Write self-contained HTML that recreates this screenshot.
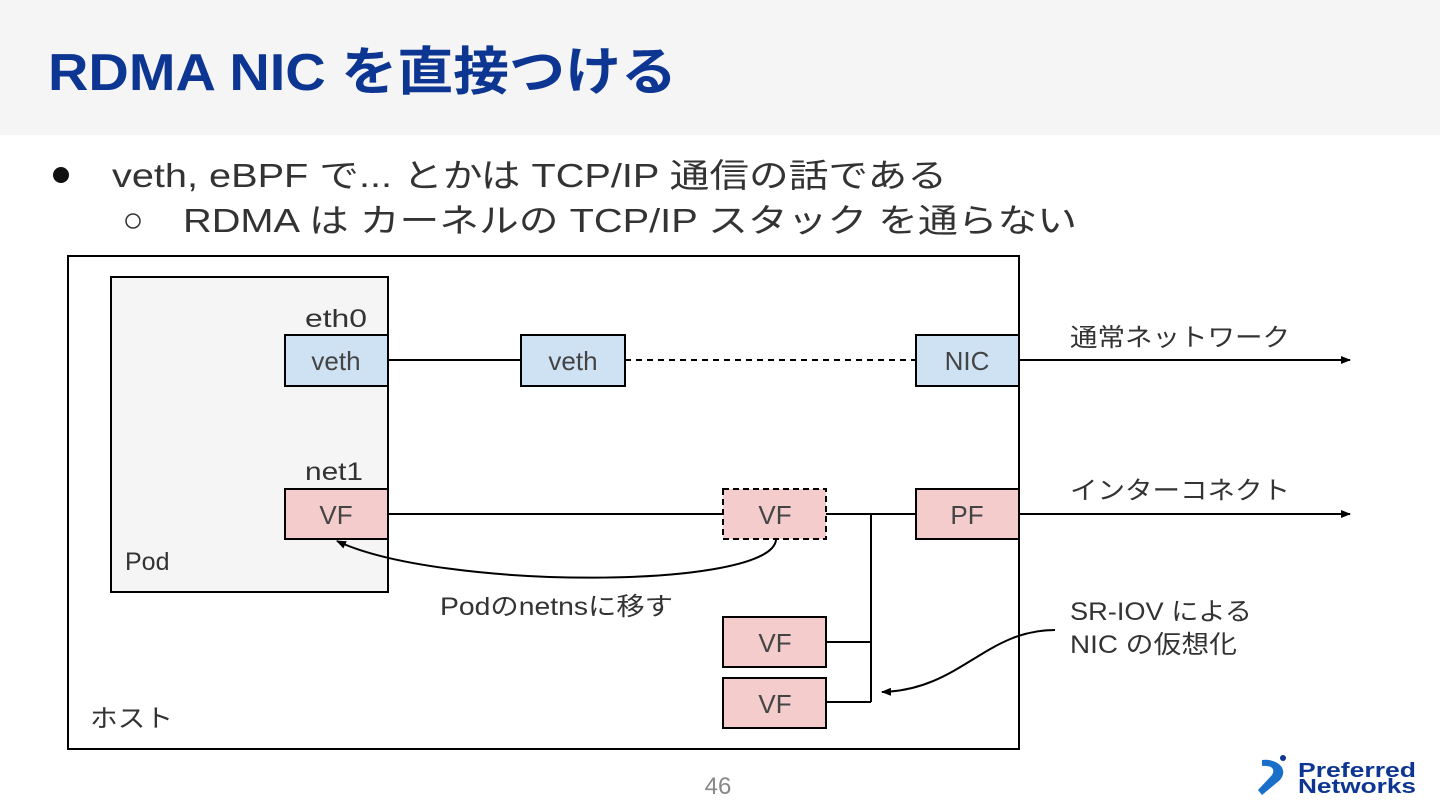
<!DOCTYPE html>
<html><head><meta charset="utf-8"><style>
html,body{margin:0;padding:0;background:#fff;}
svg{display:block;}
text{font-family:"Liberation Sans","Noto Sans CJK JP",sans-serif;}
</style></head><body>
<svg width="1440" height="810" viewBox="0 0 1440 810" xmlns="http://www.w3.org/2000/svg">
<defs><marker id="ah" markerWidth="10" markerHeight="8" refX="9" refY="4" orient="auto" markerUnits="userSpaceOnUse"><path d="M0,0 L10,4 L0,8 Z" fill="#000"/></marker></defs>
<rect x="0" y="0" width="1440" height="135" fill="#f5f5f5"/>
<text x="48" y="90" font-size="52" font-weight="bold" fill="#0d3592" textLength="629" lengthAdjust="spacingAndGlyphs">RDMA NIC を直接つける</text>
<circle cx="61" cy="175" r="8" fill="#111"/>
<text x="112" y="187" font-size="33" fill="#333" textLength="835" lengthAdjust="spacingAndGlyphs">veth, eBPF で... とかは TCP/IP 通信の話である</text>
<circle cx="133" cy="221" r="7" fill="none" stroke="#333" stroke-width="1.5"/>
<text x="183" y="232" font-size="33" fill="#333" textLength="894" lengthAdjust="spacingAndGlyphs">RDMA は カーネルの TCP/IP スタック を通らない</text>
<g stroke="#000" stroke-width="2" fill="none">
<rect x="68" y="256" width="951" height="493" fill="#fff"/>
<rect x="111" y="277" width="277" height="315" fill="#f5f5f5"/>
<line x1="388" y1="360" x2="521" y2="360"/>
<line x1="625" y1="360" x2="916" y2="360" stroke-dasharray="6,5"/>
<line x1="1019" y1="360" x2="1350" y2="360" marker-end="url(#ah)"/>
<line x1="388" y1="514" x2="723" y2="514"/>
<line x1="826" y1="514" x2="916" y2="514"/>
<line x1="1019" y1="514" x2="1350" y2="514" marker-end="url(#ah)"/>
<polyline points="871,514 871,702"/>
<line x1="826" y1="642" x2="871" y2="642"/>
<line x1="826" y1="702" x2="871" y2="702"/>
<path d="M776,540 C770,590 440,590 337,541" marker-end="url(#ah)"/>
<path d="M1055,630 C985,630 960,690 882,692" marker-end="url(#ah)"/>
<rect x="285" y="335" width="103" height="51" fill="#cfe2f3"/>
<rect x="521" y="335" width="104" height="51" fill="#cfe2f3"/>
<rect x="916" y="335" width="103" height="51" fill="#cfe2f3"/>
<rect x="285" y="489" width="103" height="50" fill="#f4cccc"/>
<rect x="723" y="489" width="103" height="50" fill="#f4cccc" stroke-dasharray="6,4"/>
<rect x="916" y="489" width="103" height="50" fill="#f4cccc"/>
<rect x="723" y="617" width="103" height="50" fill="#f4cccc"/>
<rect x="723" y="678" width="103" height="50" fill="#f4cccc"/>
</g>
<g font-size="26" fill="#444" text-anchor="middle">
<text x="336" y="370">veth</text><text x="573" y="370">veth</text><text x="967" y="370">NIC</text>
<text x="336" y="524">VF</text><text x="775" y="524">VF</text><text x="967" y="524">PF</text>
<text x="775" y="652">VF</text><text x="775" y="713">VF</text>
</g>
<g font-size="25" fill="#333">
<text x="305" y="327" textLength="62" lengthAdjust="spacingAndGlyphs">eth0</text><text x="305" y="480" textLength="58" lengthAdjust="spacingAndGlyphs">net1</text>
<text x="125" y="570">Pod</text><text x="90" y="727" textLength="83" lengthAdjust="spacingAndGlyphs">ホスト</text>
<text x="440" y="615" textLength="233" lengthAdjust="spacingAndGlyphs">Podのnetnsに移す</text>
<text x="1070" y="346" textLength="220" lengthAdjust="spacingAndGlyphs">通常ネットワーク</text>
<text x="1070" y="499" textLength="220" lengthAdjust="spacingAndGlyphs">インターコネクト</text>
<text x="1070" y="620" textLength="182" lengthAdjust="spacingAndGlyphs">SR-IOV による</text>
<text x="1070" y="653" textLength="167" lengthAdjust="spacingAndGlyphs">NIC の仮想化</text>
</g>
<text x="718" y="794" font-size="24" fill="#888" text-anchor="middle">46</text>
<path d="M1262,760 C1275,758 1290,768 1280,780 L1262,795 L1258,790 L1272,775 C1276,768 1270,765 1262,766 Z" fill="#1a6fc9"/>
<circle cx="1283" cy="758" r="3" fill="#0d3592"/>
<text x="1298" y="777" font-size="20" font-weight="bold" fill="#0d3592" textLength="118" lengthAdjust="spacingAndGlyphs">Preferred</text>
<text x="1298" y="793" font-size="20" font-weight="bold" fill="#0d3592" textLength="118" lengthAdjust="spacingAndGlyphs">Networks</text>
</svg>
</body></html>
